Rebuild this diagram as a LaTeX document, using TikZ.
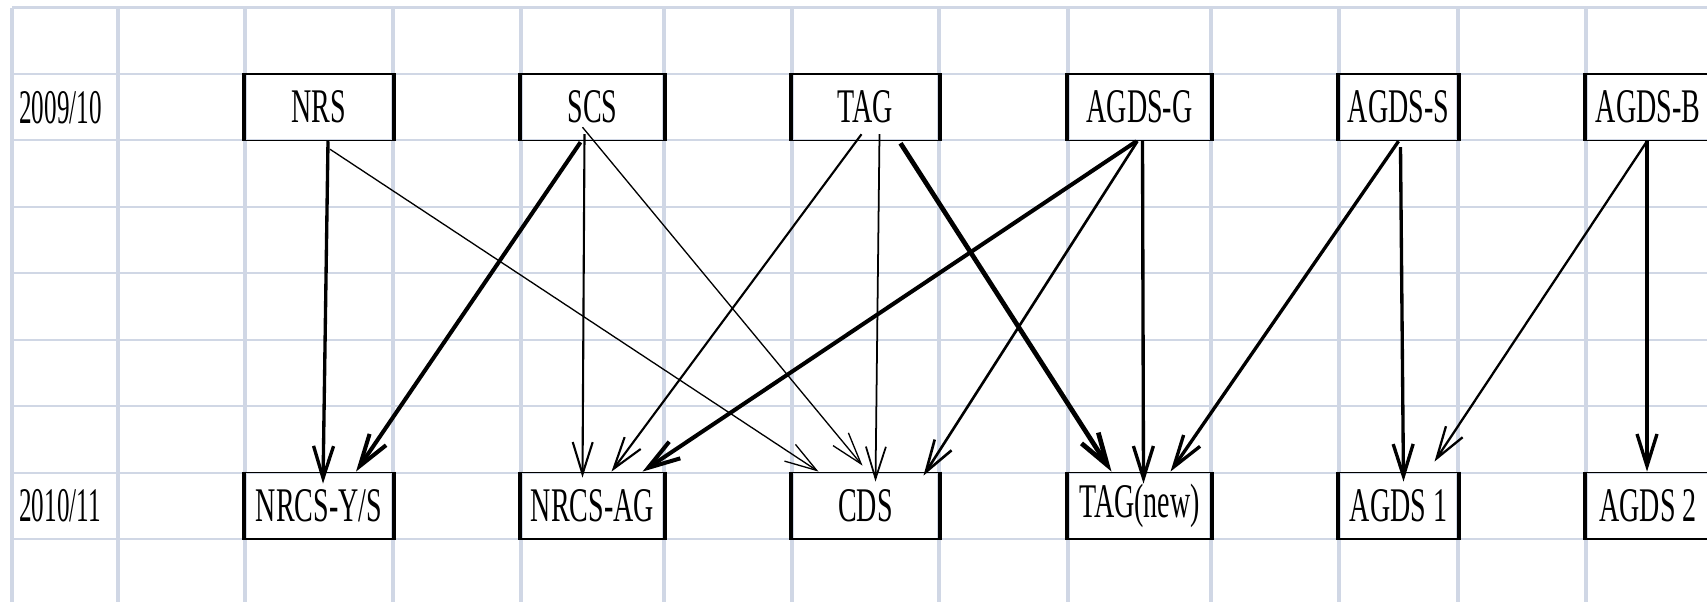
\documentclass[tikz,border=0pt]{standalone}
\usepackage{fontspec}
\setmainfont{Liberation Serif}[FakeStretch=0.58]
\newfontfamily\yearfont{Liberation Serif}[FakeStretch=0.52]
\usetikzlibrary{arrows.meta,calc}
\definecolor{gridblue}{HTML}{D0D7E5}

\begin{document}
\begin{tikzpicture}[x=0.02cm, y=-0.02cm, node distance=7.97cm]
  \tikzstyle{box}=[rectangle, draw, line width=0.9pt, minimum height=1.33cm, inner sep=0pt, font=\fontsize{27.5}{30}\selectfont]
  \tikzstyle{year}=[anchor=west, inner sep=0pt, font=\yearfont\fontsize{27.5}{30}\selectfont]
  \tikzstyle{flow}=[-{Straight Barb[length=0.64cm, width=0.4cm]}]
  \tikzstyle{weakflow}=[flow, line width=0.75pt]
  \tikzstyle{midflow}=[flow, line width=1.2pt]
  \tikzstyle{strongflow}=[flow, line width=1.9pt]
  \tikzstyle{heavyflow}=[flow, line width=2.7pt]
  \useasboundingbox (0,0) rectangle (1707,602);
  % sheet grid
  \foreach \gy in {7.5, 73.9, 140.4, 206.8, 273.3, 339.7, 406.1, 472.6, 539}
    \draw[gridblue, line width=1.2pt] (12,\gy) -- (1707,\gy);
  \foreach \gx in {12, 118, 245, 393, 521, 664, 792, 939, 1068, 1211, 1339, 1458, 1586}
    \draw[gridblue, line width=1.9pt] (\gx,7.5) -- (\gx,602);
  % years
  \node[year] (y1) at (19,107.2) {2009/10};
  \node[year] (y2) at (19,505.8) {2010/11};
  % 2009/10 groups
  \node[box, minimum width=2.96cm] (nrs) at (319,107.2) {NRS};
  \node[box, minimum width=2.86cm] (scs) at (592.5,107.2) {SCS};
  \node[box, minimum width=2.94cm] (tag) at (865.5,107.2) {TAG};
  \node[box, minimum width=2.86cm] (agdsg) at (1139.5,107.2) {AGDS-G};
  \node[box, minimum width=2.38cm] (agdss) at (1398.5,107.2) {AGDS-S};
  \node[box, minimum width=2.48cm] (agdsb) at (1648,107.2) {AGDS-B};
  % 2010/11 groups
  \node[box, minimum width=2.96cm, below of=nrs] (nrcsys) {NRCS-Y/S};
  \node[box, minimum width=2.86cm, below of=scs] (nrcsag) {NRCS-AG};
  \node[box, minimum width=2.94cm, below of=tag] (cds) {CDS};
  \node[box, minimum width=2.86cm, below of=agdsg] (tagnew) {TAG(new)};
  \node[box, minimum width=2.38cm, below of=agdss] (agdsone) {AGDS 1};
  \node[box, minimum width=2.48cm, below of=agdsb] (agdstwo) {AGDS 2};
  \foreach \b in {nrs, scs, tag, agdsg, agdss, agdsb, nrcsys, nrcsag, cds, tagnew, agdsone, agdstwo}
    \draw[line width=2.3pt] (\b.north west) -- (\b.south west) (\b.north east) -- (\b.south east);
  % moves
  \draw[strongflow] ($(nrs.south)+(9,0)$) -- ($(nrcsys.north)+(4,12)$);
  \draw[weakflow] ($(nrs.south)+(11,8)$) -- ($(cds.north)+(-47,0)$);
  \draw[strongflow, line width=2.3pt] ($(scs.south)+(-12,1)$) -- ($(nrcsys.north)+(37,0)$);
  \draw[midflow] ($(scs.south)+(-8,-7)$) -- ($(nrcsag.north)+(-10,6)$);
  \draw[weakflow] ($(scs.south)+(-10,-14)$) -- ($(cds.north)+(-3,-6)$);
  \draw[midflow] ($(tag.south)+(-4,-7)$) -- ($(nrcsag.north)+(19,0)$);
  \draw[midflow, line width=1pt] ($(tag.south)+(14,-7)$) -- ($(cds.north)+(10,10)$);
  \draw[heavyflow] ($(tag.south)+(35,2)$) -- ($(tagnew.north)+(-28,0)$);
  \draw[strongflow, line width=2.3pt] ($(agdsg.south)+(-3,0)$) -- ($(nrcsag.north)+(50,0)$);
  \draw[midflow, line width=1.5pt] ($(agdsg.south)+(-2,0)$) -- ($(cds.north)+(58,4)$);
  \draw[strongflow] ($(agdsg.south)+(3,0)$) -- ($(tagnew.north)+(4,12)$);
  \draw[strongflow] (agdss.south) -- ($(tagnew.north)+(31,0)$);
  \draw[strongflow] ($(agdss.south)+(2,6)$) -- ($(agdsone.north)+(5,10)$);
  \draw[midflow, line width=1.3pt] ($(agdsb.south)+(-1,0)$) -- ($(agdsone.north)+(36,-10)$);
  \draw[strongflow] ($(agdsb.south)+(-1,0)$) -- ($(agdstwo.north)+(-1,0)$);
\end{tikzpicture}
\end{document}
